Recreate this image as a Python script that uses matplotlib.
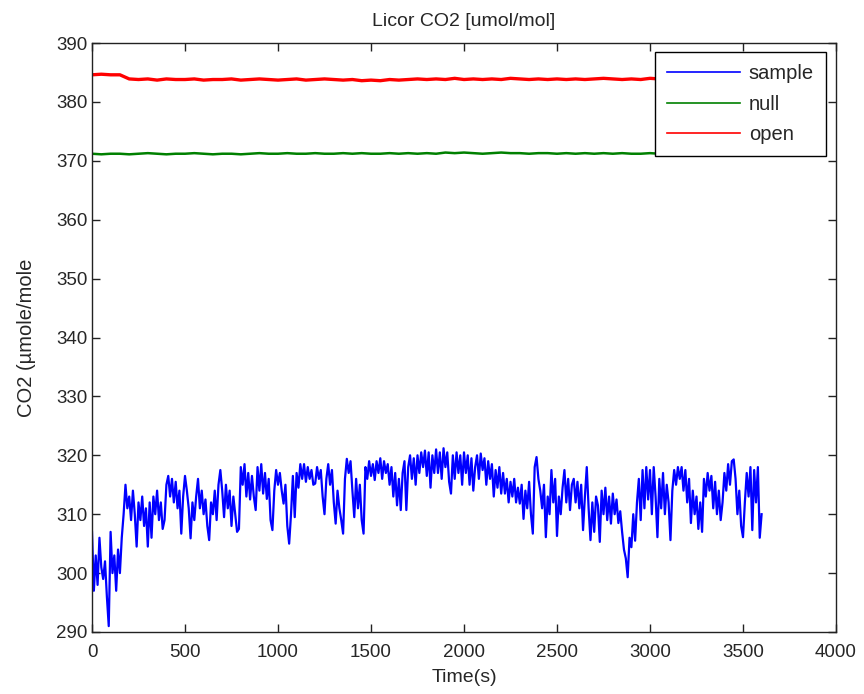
import numpy as np
import matplotlib
matplotlib.use("Agg")
import matplotlib.pyplot as plt

plt.rcParams['font.family'] = ['Liberation Sans', 'DejaVu Sans']

# ---- data ----
sample_step = 10  # seconds between sample readings
sample = [
    307, 297, 303, 298, 306, 301, 299, 302, 296, 291,
    307, 300, 303, 297, 304, 300, 306, 310, 315, 311,
    313, 309, 314, 310, 304.5, 312, 309, 313, 308, 311,
    304.5, 312, 306, 313, 310, 314, 309, 312, 307.5, 309,
    315, 316.5, 313, 316, 312, 315.5, 311, 314, 306.7, 313,
    316.5, 314, 311, 305.9, 312, 309, 313, 316, 311, 314,
    310, 312.5, 308, 305.6, 312, 310, 314, 309, 315, 317.5,
    314, 309.5, 315, 311, 314, 308, 313, 310, 307, 307.5,
    318, 315, 318.5, 313, 317, 312.5, 316.5, 313, 310.7, 318,
    314, 318.5, 313.5, 317, 312.6, 316, 309, 307.3, 314, 317.5,
    315, 317, 314, 311.8, 315, 308, 305, 310, 316.5, 309.5,
    317, 314.5, 318.5, 316, 318.5, 315.5, 318, 316, 317.5, 315,
    315.2, 318, 316, 317.5, 313, 310, 316, 318.5, 315, 317.5,
    312, 308.4, 314, 311, 309, 306.7, 316, 319.4, 317, 319,
    314, 309.5, 316, 311, 315, 309, 306.7, 318, 316, 319,
    316.5, 318.5, 315.8, 319, 317, 319.5, 316, 319, 317, 318.5,
    315, 318, 313, 317, 311.5, 316, 310.7, 317, 319, 310.7,
    318, 320, 316, 319.5, 315, 320, 317, 320.5, 318, 320.8,
    316.5, 320.5, 314.5, 320, 317, 321, 317, 320.5, 316, 321.2,
    318, 320.5, 315.5, 313.5, 320, 316, 320.5, 317, 320, 315,
    320.5, 317, 320, 315, 319.5, 314, 318, 320, 316, 320.3,
    317.5, 319.5, 315, 319, 316, 318.5, 313, 317.5, 314.5, 318,
    313.5, 317, 313.5, 316, 312, 315.5, 313, 316, 312, 314.5,
    311.8, 315, 309.2, 314, 311, 315.5, 310, 306.7, 318, 319.7,
    316, 314, 311, 315, 306.1, 313, 310, 317.5, 312, 316,
    306.3, 313, 310, 314.5, 317.5, 312, 316, 310.7, 315, 316,
    312, 315.5, 311, 315, 307.3, 313, 318, 311, 305.6, 312,
    307, 313, 311.5, 305.3, 314, 310, 314.5, 309, 313, 308.4,
    313.5, 310, 312.5, 308.5, 310.5, 307, 304, 302.5, 299.3, 306,
    304.4, 310, 305.5, 312, 316, 309, 317.5, 311, 318, 312.5,
    317.5, 310, 318, 313, 306.1, 316, 311, 317, 310, 315,
    312, 305.6, 314, 317.5, 315, 318, 316, 318, 314, 317.5,
    312, 316, 308.5, 314, 310, 313, 307.5, 312, 307, 316,
    313, 317, 314, 316.5, 311, 315.5, 310, 314, 309, 312,
    317, 314, 318.5, 315, 319, 319.3, 316, 310, 314, 308,
    306.1, 312, 317, 313, 318, 307.3, 317.5, 312, 318, 306,
    310,
]

ref_step = 50  # seconds between null / open readings
null = [
    371.2, 371.1, 371.2, 371.2, 371.1, 371.2, 371.3, 371.2, 371.1, 371.2,
    371.2, 371.3, 371.2, 371.1, 371.2, 371.2, 371.1, 371.2, 371.3, 371.2,
    371.2, 371.3, 371.2, 371.2, 371.3, 371.2, 371.2, 371.3, 371.2, 371.3,
    371.2, 371.2, 371.3, 371.2, 371.3, 371.2, 371.3, 371.2, 371.4, 371.3,
    371.4, 371.3, 371.2, 371.3, 371.4, 371.3, 371.3, 371.2, 371.3, 371.3,
    371.2, 371.3, 371.2, 371.3, 371.2, 371.3, 371.2, 371.3, 371.2, 371.2,
    371.3, 371.2, 371.3, 371.3, 371.2, 371.2, 371.3, 371.2, 371.2, 371.3,
    371.2, 371.2, 371.2,
]
open_ = [
    384.6, 384.7, 384.6, 384.6, 383.9, 383.8, 383.9, 383.7, 383.9, 383.8,
    383.8, 383.9, 383.7, 383.8, 383.8, 383.9, 383.7, 383.8, 383.9, 383.8,
    383.7, 383.8, 383.9, 383.7, 383.8, 383.9, 383.8, 383.7, 383.8, 383.6,
    383.7, 383.6, 383.8, 383.7, 383.8, 383.9, 383.8, 383.9, 383.8, 384.0,
    383.8, 383.9, 383.8, 383.9, 383.8, 384.0, 383.9, 383.8, 383.9, 383.8,
    383.9, 383.8, 383.9, 383.8, 383.9, 384.0, 383.9, 383.8, 383.9, 383.8,
    384.0, 383.9, 383.8, 383.9, 383.8, 383.9, 383.8, 383.9, 383.8, 383.9,
    383.8, 383.9, 383.8,
]

t_sample = np.arange(len(sample)) * sample_step
t_ref = np.arange(len(null)) * ref_step

text_color = '#262626'

fig = plt.figure(figsize=(8.64, 6.94), dpi=100)
ax = fig.add_axes([92/864, 1 - 632/694, (836-92)/864, (632-43)/694])

ax.plot(t_sample, sample, color=(0, 0, 1), lw=1.6, label='sample')
ax.plot(t_ref, null, color=(0, 0.5, 0), lw=1.8, label='null')
ax.plot(t_ref, open_, color=(1, 0, 0), lw=2.4, label='open')

ax.set_xlim(0, 4000)
ax.set_ylim(290, 390)
ax.set_xticks(np.arange(0, 4001, 500))
ax.set_yticks(np.arange(290, 391, 10))

fs = 13.5
ax.tick_params(direction='in', length=6, width=1, top=True, right=True,
               labelsize=fs, colors='#222222', labelcolor=text_color)
ax.tick_params(axis='x', pad=8.5)
ax.tick_params(axis='y', pad=3)
for s in ax.spines.values():
    s.set_linewidth(1.0)
    s.set_color('#222222')

ax.set_title('Licor CO2 [umol/mol]', fontsize=14, pad=12.5, color=text_color)
ax.set_xlabel('Time(s)', fontsize=14, labelpad=6, color=text_color)
ax.set_ylabel('CO2 (\u00b5mole/mole', fontsize=14.5, labelpad=15, color=text_color)

leg = ax.legend(loc='upper right', bbox_to_anchor=(0.9866, 0.985),
                borderaxespad=0, fontsize=14.5, handlelength=3.6,
                labelspacing=0.58, handletextpad=0.45, borderpad=0.6,
                fancybox=False, framealpha=1, edgecolor='black')
leg.get_frame().set_linewidth(1.0)
for txt in leg.get_texts():
    txt.set_color(text_color)
for h in leg.get_lines():
    h.set_linewidth(1.2)

fig.savefig('out.png', dpi=100)
